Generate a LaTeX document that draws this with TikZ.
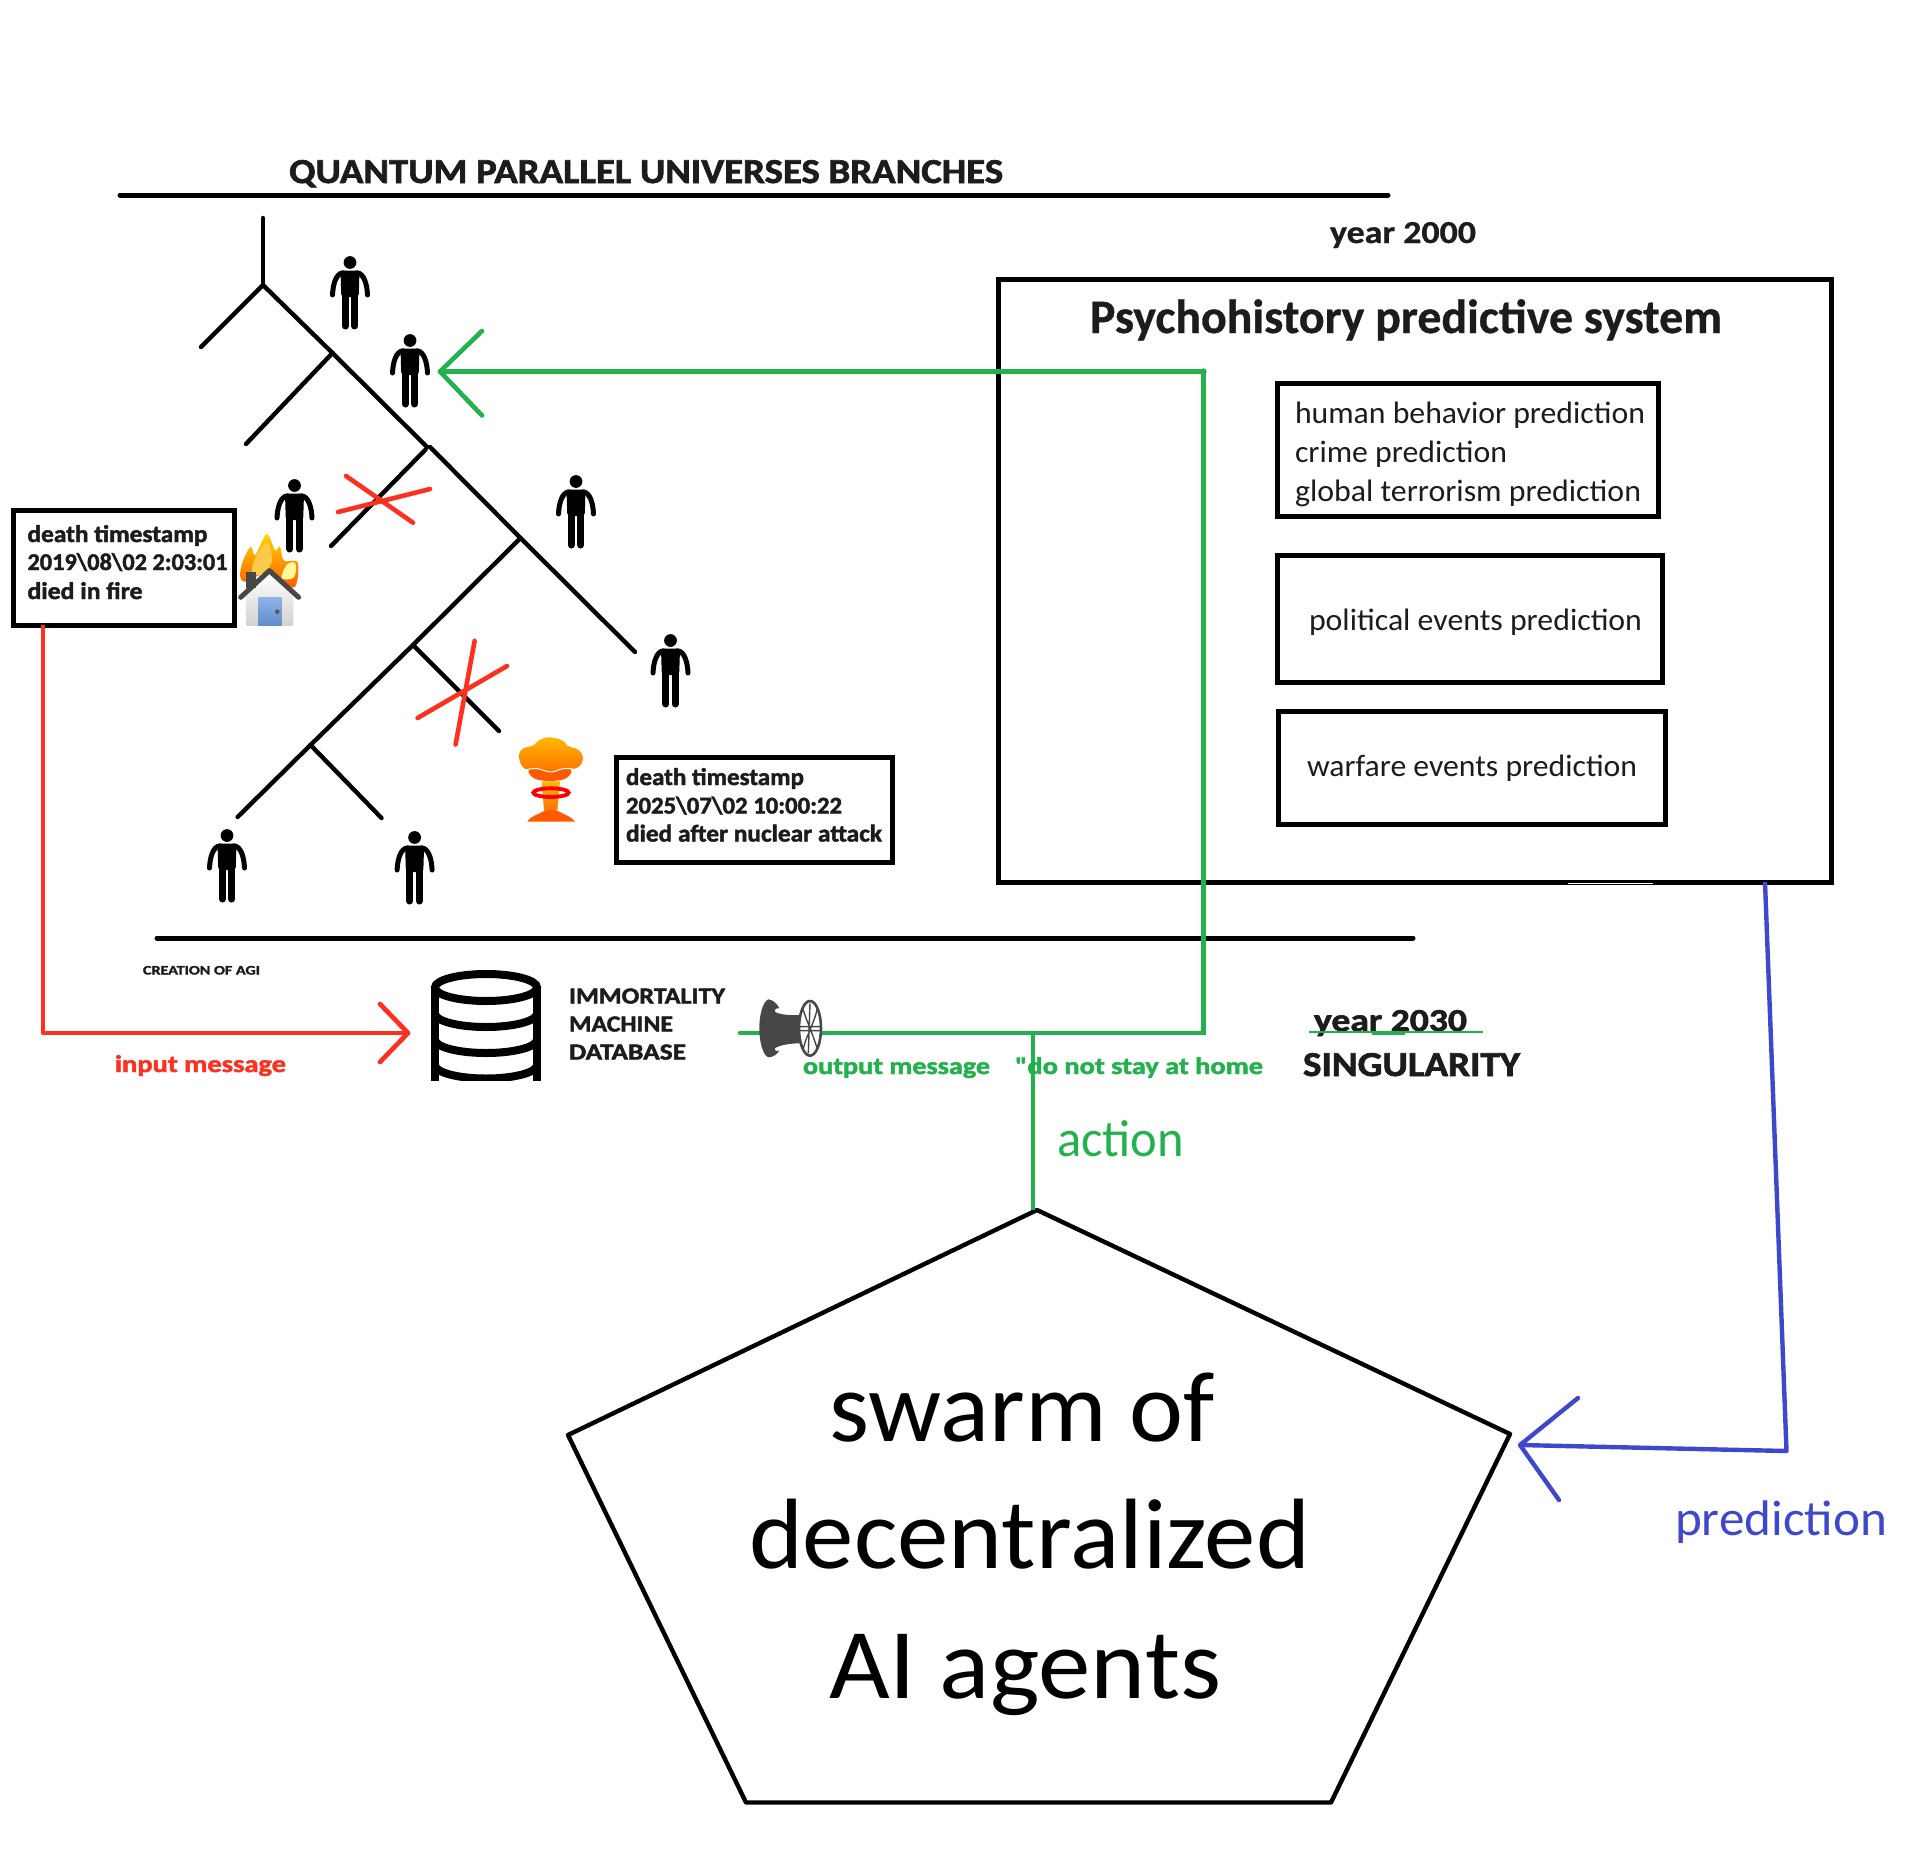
\documentclass[tikz,border=0pt]{standalone}
\usepackage{graphicx}
\usepackage{fontspec}
\setmainfont{Carlito}
\newfontfamily\hvy[FakeBold=1.8]{Carlito Bold}
\newfontfamily\semi[FakeBold=0.7]{Carlito Bold}
\usetikzlibrary{shapes.geometric}
\definecolor{ink}{HTML}{1C1C1C}
\definecolor{gr}{HTML}{22B14C}
\definecolor{rd}{HTML}{FF3020}
\definecolor{bl}{HTML}{3F48CC}
\definecolor{cloudtop}{HTML}{FFB800}
\definecolor{cloudlow}{HTML}{FF7400}
\definecolor{capc}{HTML}{FF5A00}
\definecolor{doortop}{HTML}{8FB4E8}
\definecolor{doorlow}{HTML}{5F8CCB}
\newcommand\wt[2]{\resizebox{#1pt}{\height}{#2}}
\newcommand\sz[1]{\fontsize{#1pt}{#1pt}\selectfont}
\tikzset{
  lab/.style={anchor=base west,inner sep=0pt,outer sep=0pt,text=ink},
  boxed/.style={draw=black,line width=5pt,rectangle,inner sep=0pt,outer sep=0pt,anchor=north west},
  branch/.style={line width=4.4pt,line cap=round,black},
  rule/.style={line width=5pt,line cap=round,black},
  grline/.style={gr,line width=4.6pt},
  rdline/.style={rd,line width=4.7pt,line join=round},
  blline/.style={bl,line width=4.4pt,line join=round},
  pics/humanfig/.style={code={
    \fill (0,5.5) circle[radius=6.4];
    \fill[rounded corners=3pt] (-9.5,13.5) -- (9.5,13.5) -- (8.7,40) -- (-8.7,40) -- cycle;
    \draw[line width=5pt,line cap=round] (-7,15.8) .. controls (-14,16.5) and (-17,27) .. (-17.5,38);
    \draw[line width=5pt,line cap=round] (7,15.8) .. controls (14,16.5) and (17,27) .. (17.5,38);
    \draw[line width=7pt,line cap=round] (-4.7,36) -- (-4.7,69);
    \draw[line width=7pt,line cap=round] (4.7,36) -- (4.7,69);
  }}
}
\begin{document}
\begin{tikzpicture}[x=1pt,y=-1pt]
\useasboundingbox (0,0) rectangle (1920,1868);
% rules and header
\draw[rule] (120,195) -- (1388,195);
\draw[rule] (157,938) -- (1413,938);
\node[lab] (title) at (289,183) {\wt{714}{\sz{35}\hvy QUANTUM PARALLEL UNIVERSES BRANCHES}};
\node[lab] (yeartop) at (1330,243) {\wt{146}{\sz{32}\semi year 2000}};
% tree
\coordinate (j0) at (263,285);
\coordinate (j1) at (332.5,353);
\coordinate (j2) at (427,447);
\coordinate (j3) at (520.5,538);
\coordinate (j4) at (413,645);
\coordinate (j5) at (310.5,745);
\draw[branch] (263,218) -- (j0);
\draw[branch] (j0) -- (201,347);
\draw[branch] (j0) -- (j1);
\draw[branch] (j1) -- (246,444);
\draw[branch] (j1) -- (j2);
\draw[branch] (425.6,449.5) -- (331,546);
\draw[branch] (430,447) -- (j3);
\draw[branch] (j3) -- (635,652);
\draw[branch] (j3) -- (j4);
\draw[branch] (j4) -- (499,731);
\draw[branch] (j4) -- (j5);
\draw[branch] (j5) -- (237.6,817);
\draw[branch] (j5) -- (381.5,818);
% people
\foreach \px/\py in {350/257,410/335,294.5/480,576/476,670.5/635,227/830,414.6/832}
  \pic at (\px,\py) {humanfig};
% red crosses
\draw[rd,line width=4.6pt,line cap=round] (346,476) -- (413,522.7);
\draw[rd,line width=4.6pt,line cap=round] (338,512) -- (430,489);
\draw[rd,line width=4.6pt,line cap=round] (474.6,641) -- (455.6,744.5);
\draw[rd,line width=4.6pt,line cap=round] (417.6,718) -- (507,666);
% fire house
\begin{scope}[shift={(220,500)},x=0.3333pt,y=-0.3333pt]
  \shade[top color=yellow!70!orange,bottom color=orange!70!red] plot[smooth cycle,tension=0.55] coordinates {(60,228) (68,185) (92,140) (106,165) (140,102) (165,150) (180,140) (192,182) (232,185) (232,240) (215,262) (150,215) (100,235) (72,245)};
  \fill[yellow!45!orange!70!white] plot[smooth cycle,tension=0.6] coordinates {(95,215) (110,165) (142,128) (156,175) (146,205) (115,225)};
  \fill[yellow!40!white] plot[smooth cycle,tension=0.6] coordinates {(185,235) (200,195) (226,190) (222,232)};
  \shade[top color=white,bottom color=black!18,rounded corners=2pt] (78,280) -- (148,222) -- (220,280) -- (220,378) -- (78,378) -- cycle;
  \fill[black!72] (78,215) rectangle (108,265);
  \draw[black!72,line width=5pt,line cap=round,line join=round] (62,292) -- (148,212) -- (236,292);
  \shade[top color=doortop,bottom color=doorlow] (115,292) rectangle (185,378);
  \fill[black!65] (172,335) circle[radius=7];
\end{scope}
% boxes
\node[boxed,minimum width=221pt,minimum height=115pt] (firebox) at (13,510) {};
\node[lab] (f1) at (27.5,542) {\wt{180}{\sz{24}\hvy death timestamp}};
\node[lab] (f2) at (27.5,570) {\wt{200}{\sz{24}\hvy 2019\textbackslash 08\textbackslash 02 2:03:01}};
\node[lab] (f3) at (27.5,599) {\wt{115}{\sz{24}\hvy died in fire}};
\node[boxed,minimum width=276pt,minimum height=105pt] (nukebox) at (616,757) {};
\node[lab] (n1) at (626,785) {\wt{178}{\sz{24}\hvy death timestamp}};
\node[lab] (n2) at (626,813.5) {\wt{216}{\sz{24}\hvy 2025\textbackslash 07\textbackslash 02 10:00:22}};
\node[lab] (n3) at (626,841.5) {\wt{256}{\sz{24}\hvy died after nuclear attack}};
% nuke
\begin{scope}[shift={(500,720)},x=0.3333pt,y=-0.3333pt]
  \fill[capc] plot[smooth cycle,tension=0.6] coordinates {(88,148) (150,140) (212,148) (198,175) (150,183) (102,175)};
  \shade[top color=cloudtop,bottom color=cloudlow] plot[smooth cycle,tension=0.75] coordinates {(58,118) (66,88) (100,76) (118,60) (150,52) (188,62) (204,78) (238,92) (248,122) (225,146) (190,144) (152,154) (112,144) (78,148)};
  \draw[white,line width=1pt] plot[smooth,tension=0.7] coordinates {(78,149) (112,146) (152,156) (190,146) (225,148)};
  \shade[top color=cloudtop,bottom color=cloudlow] (125,184) -- (180,184) -- (172,272) -- (132,272) -- cycle;
  \draw[red,line width=3.8pt] (153,218) ellipse[x radius=53,y radius=13];
  \fill[capc] (82,305) .. controls (95,285) and (115,285) .. (128,275) .. controls (140,268) and (165,268) .. (178,275) .. controls (195,285) and (215,290) .. (225,305) -- cycle;
\end{scope}
% inner system boxes
\node[boxed,minimum width=833pt,minimum height=603pt] (psy) at (998,279.5) {};
\draw[white,line width=1pt] (1568,883.5) -- (1653,883.5);
\node[lab] (psytitle) at (1090,333) {\wt{632}{\sz{48}\semi Psychohistory predictive system}};
\node[boxed,minimum width=381pt,minimum height=133pt] (b1) at (1277,383) {};
\node[lab] (b1a) at (1295,423) {\wt{350}{\sz{31}human behavior prediction}};
\node[lab] (b1b) at (1295,462) {\wt{212}{\sz{31}crime prediction}};
\node[lab] (b1c) at (1295,501) {\wt{346}{\sz{31}global terrorism prediction}};
\node[boxed,minimum width=385pt,minimum height=127pt] (b2) at (1277,555) {};
\node[lab] (b2a) at (1309,630) {\wt{333}{\sz{31}political events prediction}};
\node[boxed,minimum width=387pt,minimum height=113pt] (b3) at (1278,711) {};
\node[lab] (b3a) at (1307,776) {\wt{330}{\sz{31}warfare events prediction}};
% pentagon
\coordinate (pa) at (1037,1210);
\draw[line width=4.4pt,line join=round,black] (pa) -- (1510,1434) -- (1331,1802.5) -- (746,1802.5) -- (568,1435) -- cycle;
\node[lab,text=black] (s1) at (829,1441) {\wt{386}{\sz{100}swarm of}};
\node[lab,text=black] (s2) at (749,1568) {\wt{561}{\sz{100}decentralized}};
\node[lab,text=black] (s3) at (829,1698) {\wt{392}{\sz{100}AI agents}};
% green connectors
\coordinate (gTip) at (440,371.5);
\coordinate (gCorner) at (1203.5,371.5);
\coordinate (gLow) at (1203.5,1033);
\coordinate (gStart) at (740,1033);
\coordinate (gT) at (1033,1033);
\draw[grline,line cap=round] (gTip) -- (gCorner) -- (gLow) -- (gStart);
\fill[gr] (gCorner) circle[radius=3.2];
\draw[grline] (gT) -- (gT |- pa);
\draw[grline,line cap=round,line join=round] (482,331) -- (gTip) -- (482,415.5);
% reel
\begin{scope}[shift={(740,980)},x=0.3333pt,y=-0.3333pt]
  \fill[black!72] (85,58) .. controls (100,60) and (112,72) .. (118,85) .. controls (108,84) and (102,88) .. (104,95) .. controls (120,105) and (150,106) .. (180,105) -- (180,190) .. controls (150,190) and (120,195) .. (104,205) .. controls (102,212) and (108,214) .. (118,212) .. controls (112,222) and (100,232) .. (85,232) .. controls (68,225) and (58,185) .. (58,145) .. controls (58,105) and (68,65) .. (85,58) -- cycle;
  \draw[black!72,fill=white,line width=2.6pt] (210,145) ellipse[x radius=33,y radius=82];
  \draw[black!72,line width=1.4pt] (180,140) -- (243,140) (180,152) -- (243,152) (210,70) -- (205,220) (188,85) .. controls (200,120) and (205,135) .. (212,145) .. controls (222,120) and (228,105) .. (232,85) (190,205) .. controls (198,175) and (205,160) .. (212,150) .. controls (220,170) and (226,190) .. (232,205);
\end{scope}
% red connector
\coordinate (rTip) at (408,1033);
\coordinate (rCorner) at (43,1033);
\draw[rdline] (43,625) -- (rCorner) -- (rTip);
\draw[rdline,line cap=round] (380,1004) -- (rTip) -- (380,1062);
% blue connector
\coordinate (bTip) at (1520,1445);
\coordinate (bCorner) at (1786.5,1451);
\draw[blline] (1765,882) -- (bCorner) -- (bTip);
\draw[blline,line cap=round] (1578,1398) -- (bTip) -- (1559,1500);
% database
\begin{scope}
  \clip (425,960) rectangle (550,1080);
  \draw[line width=8pt,black] (486,987.5) ellipse[x radius=51,y radius=13.5];
  \draw[line width=8pt,black] (435,987.5) -- (435,1085);
  \draw[line width=8pt,black] (537,987.5) -- (537,1085);
  \foreach \cy in {1013.5,1039.5,1065}
    \draw[line width=8pt,black] (435,\cy) arc[start angle=180,end angle=0,x radius=51,y radius=13.5];
\end{scope}
% labels
\node[lab] (agi) at (143,974.5) {\wt{117}{\sz{13}\hvy CREATION OF AGI}};
\node[lab] (imm1) at (569,1003.5) {\wt{156}{\sz{23}\hvy IMMORTALITY}};
\node[lab] (imm2) at (569,1031.5) {\wt{104}{\sz{23}\hvy MACHINE}};
\node[lab] (imm3) at (569,1059.5) {\wt{117}{\sz{23}\hvy DATABASE}};
\node[lab,text=rd] (inmsg) at (115,1072) {\wt{171}{\sz{24}\hvy input message}};
\node[lab,text=gr] (outmsg) at (803,1074) {\wt{187}{\sz{24}\hvy output message}};
\node[lab,text=gr] (quote) at (1015,1074) {\wt{248}{\sz{24}\hvy "do not stay at home}};
\node[lab] (y2030) at (1314,1031) {\wt{153}{\sz{32}\hvy year 2030}};
\draw[gr,line width=2.4pt] (1309,1032) -- (1483,1032);
\fill[gr] (1372,1031) rectangle (1405,1035);
\node[lab] (sing) at (1303,1076) {\wt{217}{\sz{35}\hvy SINGULARITY}};
\node[lab,text=gr] (act) at (1057,1156) {\wt{127}{\sz{52}action}};
\node[lab,text=bl] (pred) at (1675,1535) {\wt{212}{\sz{50}prediction}};
\end{tikzpicture}
\end{document}
